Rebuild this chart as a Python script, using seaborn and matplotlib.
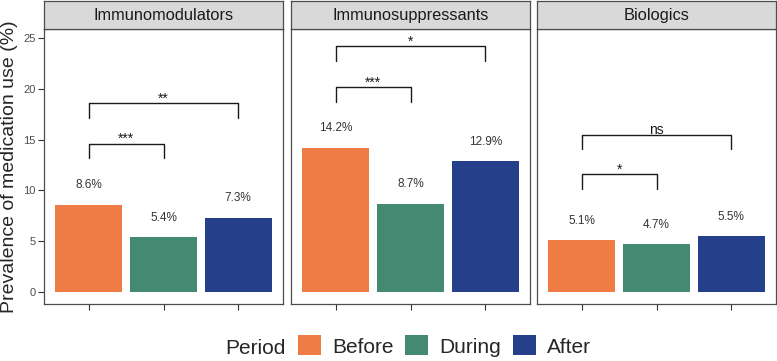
import numpy as np
import pandas as pd
import matplotlib
matplotlib.use('Agg')
import matplotlib.pyplot as plt
from matplotlib.patches import Patch
import seaborn as sns

sns.set_style("white")
plt.rcParams['font.family'] = ['Liberation Sans', 'DejaVu Sans']

# data
categories = ['Immunomodulators', 'Immunosuppressants', 'Biologics']
periods = ['Before', 'During', 'After']
prevalence = {
    'Immunomodulators': [8.6, 5.4, 7.3],
    'Immunosuppressants': [14.2, 8.7, 12.9],
    'Biologics': [5.1, 4.7, 5.5],
}
# significance brackets: (group a, group b, bracket height, label)
brackets = {
    'Immunomodulators': [(0, 1, 14.6, '***'), (0, 2, 18.6, '**')],
    'Immunosuppressants': [(0, 1, 20.2, '***'), (0, 2, 24.2, '*')],
    'Biologics': [(0, 1, 11.6, '*'), (0, 2, 15.5, 'ns')],
}
palette = {'Before': '#EF7B45', 'During': '#448A73', 'After': '#253F8A'}

rows = []
for cat in categories:
    for p, v in zip(periods, prevalence[cat]):
        rows.append({'Category': cat, 'Period': p, 'Prevalence': v})
df = pd.DataFrame(rows)

W, H = 777, 361
fig = plt.figure(figsize=(W / 100, H / 100), dpi=100)

lefts = [44, 291, 537]
pw = 239
top_px, bot_px, strip_top = 29, 304, 1
border = '#333333'

for i, cat in enumerate(categories):
    ax = fig.add_axes([lefts[i] / W, (H - bot_px) / H, pw / W, (bot_px - top_px) / H])
    sub = df[df['Category'] == cat]
    sns.barplot(data=sub, x='Period', y='Prevalence', hue='Period', order=periods,
                hue_order=periods, palette=palette, width=0.9, legend=False,
                saturation=1, linewidth=0, ax=ax)
    ax.set_xlim(-0.6, 2.6)
    ax.set_ylim(-1.2, 25.9)
    ax.set_xlabel('')
    ax.set_ylabel('')
    ax.set_xticks([0, 1, 2])
    ax.set_xticklabels([])
    ax.tick_params(axis='x', length=4, width=0.8, color=border, bottom=True)
    if i == 0:
        ax.set_yticks([0, 5, 10, 15, 20, 25])
        ax.tick_params(axis='y', length=4, width=0.8, color=border, left=True,
                       labelsize=8, labelcolor='#4D4D4D', pad=2)
        ax.set_ylabel('Prevalence of medication use (%)', fontsize=14, labelpad=4)
    else:
        ax.set_yticks([])
    for s in ax.spines.values():
        s.set_color('#4D4D4D')
        s.set_linewidth(0.9)

    # value labels
    for x, v in enumerate(prevalence[cat]):
        ax.text(x, v + 1.9, f'{v}%', ha='center', va='center', fontsize=8.5, color='#333333')

    # brackets
    for a, b, yb, lab in brackets[cat]:
        ax.plot([a, a, b, b], [yb - 1.45, yb, yb, yb - 1.45], color='#1A1A1A', lw=1.0)
        ax.text((a + b) / 2, yb + 0.05, lab, ha='center', va='baseline', fontsize=10, color='#1A1A1A')

    # strip
    sax = fig.add_axes([lefts[i] / W, (H - top_px) / H, pw / W, (top_px - strip_top) / H])
    sax.set_facecolor('#D9D9D9')
    sax.set_xticks([])
    sax.set_yticks([])
    for s in sax.spines.values():
        s.set_color('#4D4D4D')
        s.set_linewidth(0.9)
    sax.text(0.5, 0.48, cat, ha='center', va='center', fontsize=11.8, color='#1A1A1A',
             transform=sax.transAxes)

# legend
handles = [Patch(facecolor=palette[p], edgecolor='none') for p in periods]
fig.text(225 / W, (H - 349) / H, 'Period', ha='left', va='center', fontsize=15)
fig.legend(handles, periods, ncol=3, frameon=False, fontsize=15,
           loc='center left', bbox_to_anchor=(298 / W, (H - 346) / H),
           handlelength=1.1, handleheight=1.1, handletextpad=0.55,
           columnspacing=0.55, borderpad=0, borderaxespad=0)

fig.savefig('out.png', dpi=100)
